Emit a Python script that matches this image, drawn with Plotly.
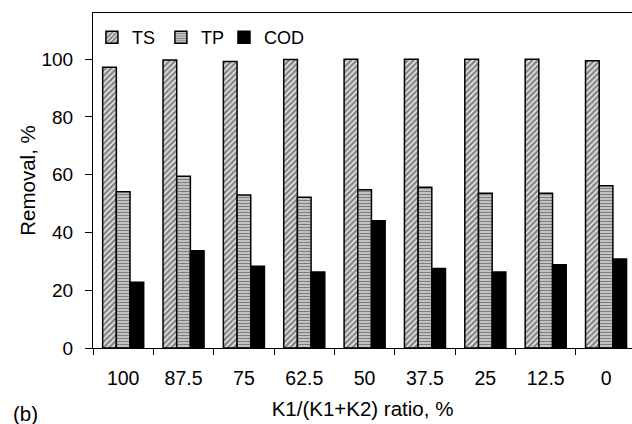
import plotly.graph_objects as go

categories = ["100", "87.5", "75", "62.5", "50", "37.5", "25", "12.5", "0"]
ts_values = [97.2, 99.7, 99.2, 99.9, 100.0, 100.0, 100.0, 100.0, 99.5]
tp_values = [54.1, 59.5, 53.0, 52.2, 54.8, 55.7, 53.6, 53.6, 56.2]
cod_values = [22.8, 33.7, 28.3, 26.3, 44.1, 27.5, 26.3, 28.8, 30.8]
y_ticks = [0, 20, 40, 60, 80, 100]

FONT = "Arial, Liberation Sans, Helvetica, sans-serif"

fig = go.Figure()
fig.add_trace(go.Bar(
    x=categories, y=ts_values, name="TS", legend="legend",
    marker=dict(color="white", line=dict(color="black", width=1.5),
                pattern=dict(shape="/", size=4, solidity=0.7, fgcolor="#111111", bgcolor="white", fillmode="overlay")),
))
fig.add_trace(go.Bar(
    x=categories, y=tp_values, name="TP", legend="legend2",
    marker=dict(color="white", line=dict(color="black", width=1.5),
                pattern=dict(shape="-", size=3, solidity=0.65, fgcolor="#000000", bgcolor="white", fillmode="overlay")),
))
fig.add_trace(go.Bar(
    x=categories, y=cod_values, name="COD", legend="legend3",
    marker=dict(color="black", line=dict(color="black", width=1.5)),
))

legend_style = dict(orientation="h", y=0.982, xanchor="left", yanchor="top",
                    bgcolor="rgba(0,0,0,0)", font=dict(size=18), itemwidth=30)

fig.update_layout(
    width=632, height=424,
    margin=dict(l=93, r=0, t=13, b=76, autoexpand=False),
    paper_bgcolor="white", plot_bgcolor="white",
    barmode="group", bargap=0.32, bargroupgap=0,
    font=dict(family=FONT, size=19, color="black"),
    showlegend=True,
    legend=dict(x=-0.002, **legend_style),
    legend2=dict(x=0.126, **legend_style),
    legend3=dict(x=0.243, **legend_style),
    xaxis=dict(
        type="category", range=[-0.5, 8.43], automargin=False,
        showline=True, linecolor="black", linewidth=1.2, mirror=True,
        ticks="outside", ticklen=6, tickcolor="black", tickwidth=1.2,
        tickson="boundaries", showgrid=False, zeroline=False,
        tickfont=dict(size=19.5), ticklabelstandoff=12,
        title=dict(text="K1/(K1+K2) ratio, %", font=dict(size=20.5), standoff=14),
    ),
    yaxis=dict(
        range=[0, 116], tickvals=y_ticks, automargin=False,
        showline=True, linecolor="black", linewidth=1.2,
        ticks="outside", ticklen=7, tickcolor="black", tickwidth=1.2,
        showgrid=False, zeroline=False,
        tickfont=dict(size=19), ticklabelstandoff=8,
        title=dict(text="Removal, %", font=dict(size=20.5), standoff=0),
    ),
    annotations=[dict(text="(b)", xref="paper", yref="paper", x=-0.152, y=-0.196,
                      xanchor="left", yanchor="middle", showarrow=False,
                      font=dict(size=20.5))],
)

fig.write_html("out.html", config={"displayModeBar": False},
               post_script="document.body.style.margin='0px';")
